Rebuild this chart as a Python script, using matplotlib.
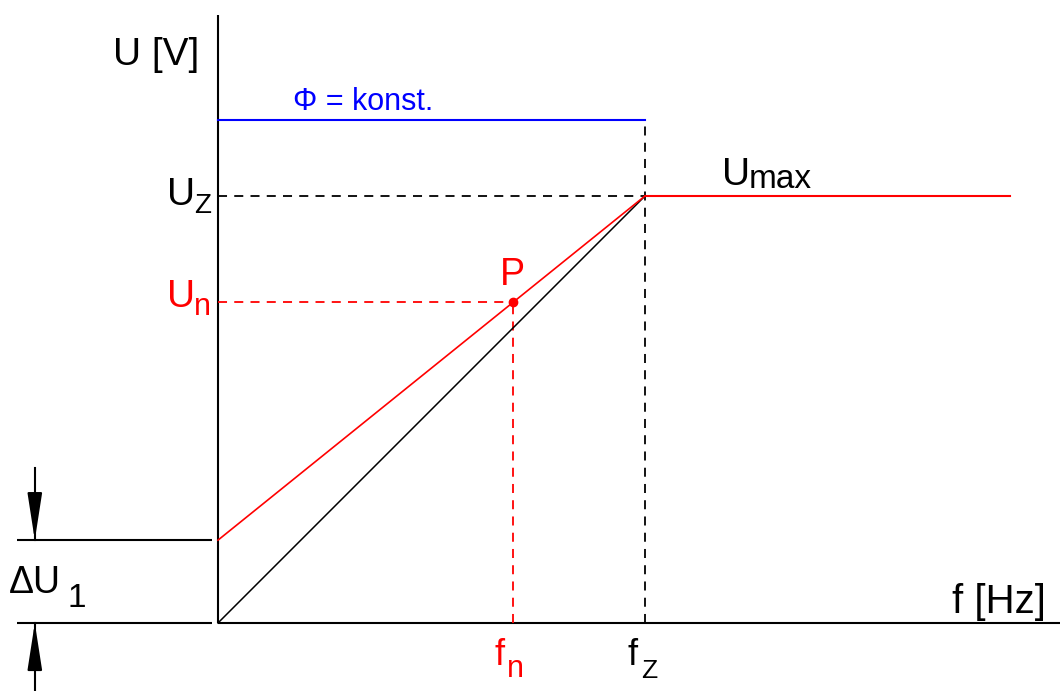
import matplotlib
matplotlib.use("Agg")
import matplotlib.pyplot as plt

plt.rcParams["font.family"] = ["Liberation Sans", "DejaVu Sans"]

# Values in units of f_z / U_z
f_z = 1.0
U_z = 1.0
dU1 = 0.194
f_n = 0.691
U_n = 0.752
phi_level = 1.178
f_umax_end = 1.855

# Lines
black_f = [0.0, f_z]
black_U = [0.0, U_z]
red_f = [0.0, f_z]
red_U = [dU1, U_z]
umax_f = [f_z, f_umax_end]
umax_U = [U_z, U_z]

# Axes extent
f_axis_end = 1.972
U_axis_top = 1.424
dim_left = -0.471
dim_right = -0.014
arrow_x = -0.429

fig = plt.figure(figsize=(10.6, 6.91), dpi=100)
ax = fig.add_axes([0, 0, 1, 1])
ax.set_xlim(-0.5105, 1.9719)
ax.set_ylim(-0.1593, 1.459)
ax.axis("off")

axis_kw = dict(color="black", lw=1.5, solid_capstyle="butt")
dash = (0, (5, 4))
red = "#ff0000"

# main axes
ax.plot([0, f_axis_end], [0, 0], **axis_kw)
ax.plot([0, 0], [0, U_axis_top], **axis_kw)

# dimension lines for dU1
ax.plot([dim_left, dim_right], [dU1, dU1], **axis_kw)
ax.plot([dim_left, dim_right], [0, 0], **axis_kw)
ax.plot([arrow_x, arrow_x], [0.363, dU1], color="black", lw=1.5)
ax.plot([arrow_x, arrow_x], [-0.159, 0], color="black", lw=1.5)
head = dict(arrowstyle="-|>,head_length=2.9,head_width=0.45",
            mutation_scale=10, color="black", lw=1.5, shrinkA=0, shrinkB=0)
ax.annotate("", xy=(arrow_x, dU1), xytext=(arrow_x, dU1 + 0.1), arrowprops=head)
ax.annotate("", xy=(arrow_x, 0), xytext=(arrow_x, -0.1), arrowprops=head)

# blue flux line
ax.plot([0, f_z], [phi_level, phi_level], color="#0000ff", lw=1.5)

# dashed guides
ax.plot([0, f_z], [U_z, U_z], color="black", lw=1.3, ls=dash)
ax.plot([f_z, f_z], [0, phi_level], color="black", lw=1.3, ls=dash)
ax.plot([0, f_n], [U_n, U_n], color=red, lw=1.3, ls=dash)
ax.plot([f_n, f_n], [0, U_n], color=red, lw=1.3, ls=dash)

# characteristic lines
ax.plot(black_f, black_U, color="black", lw=1.1)
ax.plot(red_f, red_U, color=red, lw=1.2)
ax.plot(umax_f, umax_U, color=red, lw=1.5)
ax.plot([f_n], [U_n], "o", color=red, ms=6)

# labels
ax.text(-0.246, 1.307, "U [V]", fontsize=28, ha="left", va="baseline")
ax.text(0.176, 1.201, "Φ = konst.", fontsize=22, color="#0000ff", ha="left", va="baseline")

ax.text(-0.119, 0.979, "U", fontsize=28, ha="left", va="baseline")
ax.text(-0.056, 0.960, "Z", fontsize=20, ha="left", va="baseline")

ax.text(-0.119, 0.740, "U", fontsize=28, ha="left", va="baseline", color=red)
ax.text(-0.056, 0.721, "n", fontsize=22, ha="left", va="baseline", color=red)

ax.text(0.660, 0.792, "P", fontsize=27, ha="left", va="baseline", color=red)

ax.text(1.180, 1.026, "U", fontsize=28, ha="left", va="baseline")
ax.text(1.243, 1.019, "max", fontsize=24, ha="left", va="baseline")

ax.text(1.719, 0.0234, "f [Hz]", fontsize=29, ha="left", va="baseline")

ax.text(-0.489, 0.070, "ΔU", fontsize=27, ha="left", va="baseline")
ax.text(-0.353, 0.037, "1", fontsize=24, ha="left", va="baseline")

ax.text(0.647, -0.098, "f", fontsize=26, ha="left", va="baseline", color=red)
ax.text(0.677, -0.126, "n", fontsize=22, ha="left", va="baseline", color=red)
ax.text(0.958, -0.098, "f", fontsize=26, ha="left", va="baseline")
ax.text(0.991, -0.129, "Z", fontsize=19, ha="left", va="baseline")

fig.savefig("out.png", dpi=100)
